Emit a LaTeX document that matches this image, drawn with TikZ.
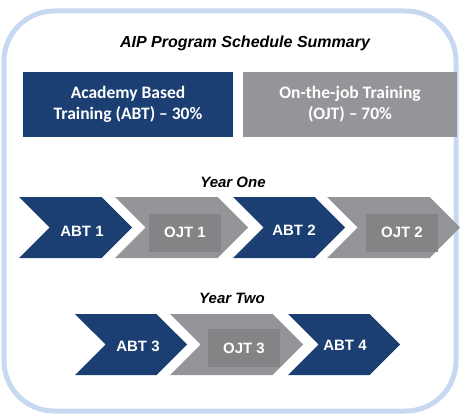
\documentclass[tikz,border=0pt]{standalone}
\usepackage{fontspec}
\setmainfont{Liberation Sans}
\newfontfamily\calfont{Carlito}[BoldFont={Carlito Bold}]
\usepackage{xcolor}
\usetikzlibrary{shapes.symbols}

\definecolor{abtblue}{HTML}{1B3F73}
\definecolor{ojtgrey}{HTML}{939598}
\definecolor{ojtdark}{HTML}{838486}
\definecolor{frameblue}{HTML}{C6D9F1}

\tikzset{
	chev/.style={signal, signal from=west, signal to=east, signal pointer angle=90,
		minimum height=61pt, inner sep=0pt, outer sep=0pt},
	abt/.style={chev, fill=abtblue},
	ojt/.style={chev, fill=ojtgrey},
	lbl/.style={text=white, inner sep=0pt, font=\bfseries\fontsize{15}{15}\selectfont},
	ojtlbl/.style={lbl, fill=ojtdark, minimum width=72pt, minimum height=38pt},
	headbox/.style={text=white, align=center, minimum width=210pt, minimum height=65pt,
		font=\calfont\bfseries\fontsize{17.5}{21}\selectfont},
	heading/.style={font=\bfseries\itshape\fontsize{15}{15}\selectfont}
}

\begin{document}
\begin{tikzpicture}[x=1pt,y=-1pt]
		\useasboundingbox (0,0) rectangle (460,414);
		\draw [frameblue, line width=5pt, rounded corners=50pt] (4,11) rectangle (456,411);
		
		\node [heading, font=\bfseries\itshape\fontsize{16}{16}\selectfont] (title) at (245,43) {AIP Program Schedule Summary};
		\node [headbox, fill=abtblue] (abtbox) at (128,104.5) {Academy Based\\Training (ABT) – 30\%};
		\node [headbox, fill=ojtgrey, minimum width=214pt] (ojtbox) at (350,104.5) {On-the-job Training\\(OJT) – 70\%};
		
		% year one
		\node [heading] (y1) at (233,182) {Year One};
		\node [abt, minimum width=113pt] (c1) at (75.5,227.5) {};
		\node [ojt, minimum width=133pt] (c2) at (181.5,227.5) {};
		\node [abt, minimum width=112pt] (c3) at (289,227.5) {};
		\node [ojt, minimum width=133pt] (c4) at (393.5,227.5) {};
		\node [lbl] (t1) at (82,231) {ABT 1};
		\node [ojtlbl] (t2) at (185,232.5) {OJT 1};
		\node [lbl] (t3) at (294,230) {ABT 2};
		\node [ojtlbl] (t4) at (402,232.5) {OJT 2};
		
		% year two
		\node [heading] (y2) at (232,298) {Year Two};
		\node [abt, minimum width=112pt] (c5) at (131,344.5) {};
		\node [ojt, minimum width=133pt] (c6) at (236.5,344.5) {};
		\node [abt, minimum width=112pt] (c7) at (344,344.5) {};
		\node [lbl] (t5) at (138,346) {ABT 3};
		\node [ojtlbl] (t6) at (244,348) {OJT 3};
		\node [lbl] (t7) at (345,345) {ABT 4};
	\end{tikzpicture}
\end{document}
